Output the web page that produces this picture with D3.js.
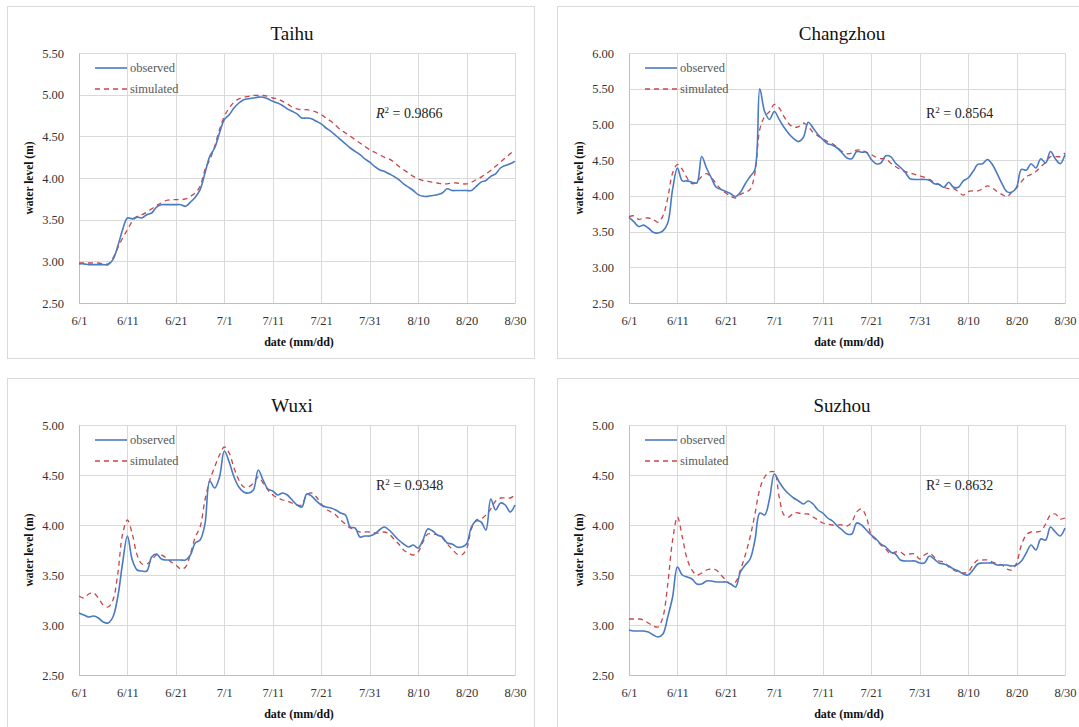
<!DOCTYPE html>
<html>
<head>
<meta charset="utf-8">
<script src="https://cdn.jsdelivr.net/npm/d3@7"></script>
<style>
  body { margin: 0; background: #fff; }
  svg, svg text { font-family: "Liberation Serif", "Times New Roman", "DejaVu Serif", serif !important; }
  svg { display: block; }
</style>
</head>
<body>
<svg id="chart" width="1079" height="727"></svg>
<script>
// stations, axis ranges and fit labels
const stations = ["Taihu", "Changzhou", "Wuxi", "Suzhou"];
const yDomains = [[2.5, 5.5], [2.5, 6.0], [2.5, 5.0], [2.5, 5.0]];
const r2Values = ["0.9866", "0.8564", "0.9348", "0.8632"];
const seriesNames = ["observed", "simulated"];
const startDate = new Date(2020, 5, 1);
const xTickDays = [0, 10, 20, 30, 40, 50, 60, 70, 80, 90];

// daily water level (m), 6/1 .. 8/30
const taihuObs = [2.97,2.97,2.96,2.96,2.96,2.96,2.96,3.02,3.18,3.38,3.52,3.51,3.53,3.52,3.56,3.58,3.65,3.68,3.68,3.68,3.68,3.68,3.66,3.71,3.77,3.86,4.06,4.26,4.36,4.54,4.70,4.76,4.84,4.90,4.94,4.95,4.96,4.97,4.97,4.95,4.92,4.90,4.87,4.83,4.80,4.77,4.72,4.72,4.71,4.68,4.65,4.60,4.56,4.51,4.46,4.41,4.36,4.32,4.28,4.23,4.19,4.14,4.10,4.08,4.05,4.02,3.98,3.93,3.89,3.85,3.80,3.78,3.78,3.79,3.80,3.82,3.87,3.85,3.85,3.85,3.85,3.85,3.90,3.95,3.97,4.02,4.05,4.12,4.15,4.17,4.20];
const taihuSim = [2.98,2.98,2.98,2.98,2.98,2.97,2.97,3.04,3.16,3.28,3.38,3.48,3.54,3.56,3.59,3.63,3.67,3.70,3.73,3.74,3.74,3.74,3.75,3.78,3.82,3.90,4.10,4.22,4.38,4.58,4.74,4.84,4.91,4.95,4.97,4.98,4.99,4.99,4.99,4.98,4.96,4.95,4.92,4.89,4.85,4.83,4.82,4.82,4.81,4.79,4.76,4.72,4.68,4.63,4.58,4.54,4.50,4.46,4.42,4.38,4.34,4.31,4.28,4.25,4.23,4.19,4.14,4.10,4.06,4.02,3.99,3.97,3.96,3.95,3.94,3.93,3.93,3.94,3.94,3.93,3.93,3.95,3.98,4.01,4.05,4.09,4.14,4.19,4.24,4.29,4.34];

const changzhouObs = [3.70,3.64,3.57,3.59,3.55,3.49,3.48,3.51,3.62,4.09,4.39,4.21,4.21,4.19,4.18,4.55,4.39,4.25,4.12,4.09,4.06,4.03,3.99,4.05,4.17,4.27,4.37,5.50,5.18,5.07,5.18,5.07,4.96,4.87,4.80,4.76,4.82,5.03,4.95,4.86,4.79,4.73,4.71,4.67,4.60,4.53,4.52,4.62,4.61,4.61,4.51,4.45,4.46,4.56,4.55,4.46,4.40,4.33,4.24,4.23,4.23,4.23,4.22,4.17,4.16,4.12,4.19,4.12,4.12,4.21,4.25,4.34,4.44,4.45,4.51,4.44,4.31,4.17,4.06,4.05,4.12,4.37,4.36,4.45,4.39,4.52,4.46,4.62,4.52,4.45,4.58];
const changzhouSim = [3.71,3.72,3.67,3.69,3.69,3.67,3.63,3.72,3.97,4.32,4.44,4.37,4.25,4.17,4.20,4.27,4.31,4.26,4.17,4.09,4.04,3.99,3.97,4.02,4.05,4.09,4.32,4.93,5.11,5.18,5.28,5.23,5.11,5.01,4.96,4.97,5.02,4.97,4.89,4.84,4.80,4.76,4.73,4.68,4.62,4.59,4.60,4.64,4.64,4.61,4.58,4.54,4.52,4.52,4.46,4.41,4.37,4.34,4.32,4.30,4.28,4.26,4.23,4.19,4.16,4.12,4.10,4.10,4.06,4.01,4.06,4.07,4.07,4.10,4.14,4.11,4.06,4.02,3.99,4.05,4.11,4.20,4.27,4.30,4.34,4.41,4.47,4.55,4.55,4.55,4.60];

const wuxiObs = [3.12,3.10,3.08,3.09,3.07,3.03,3.02,3.08,3.28,3.62,3.89,3.65,3.55,3.54,3.54,3.68,3.71,3.66,3.65,3.65,3.65,3.65,3.65,3.70,3.82,3.85,4.01,4.44,4.37,4.48,4.74,4.63,4.48,4.38,4.33,4.32,4.35,4.55,4.45,4.36,4.34,4.30,4.32,4.30,4.25,4.20,4.18,4.31,4.29,4.24,4.20,4.18,4.17,4.15,4.12,4.10,3.98,3.97,3.88,3.89,3.89,3.91,3.95,3.98,3.95,3.90,3.85,3.81,3.78,3.80,3.77,3.85,3.96,3.94,3.90,3.88,3.82,3.81,3.78,3.78,3.81,3.98,4.04,4.03,3.95,4.26,4.15,4.22,4.20,4.13,4.20];
const wuxiSim = [3.29,3.27,3.31,3.32,3.27,3.20,3.18,3.25,3.51,3.91,4.05,3.91,3.70,3.61,3.61,3.65,3.70,3.70,3.67,3.63,3.60,3.56,3.58,3.71,3.88,3.98,4.25,4.45,4.58,4.70,4.78,4.72,4.57,4.45,4.38,4.38,4.42,4.48,4.42,4.35,4.30,4.27,4.25,4.24,4.22,4.20,4.20,4.30,4.32,4.28,4.21,4.16,4.13,4.10,4.05,4.01,3.97,3.95,3.93,3.93,3.93,3.92,3.92,3.93,3.91,3.86,3.81,3.75,3.72,3.70,3.73,3.83,3.91,3.91,3.90,3.87,3.81,3.76,3.71,3.70,3.76,3.96,4.05,4.06,4.10,4.16,4.24,4.27,4.27,4.27,4.30];

const suzhouObs = [2.95,2.94,2.94,2.94,2.93,2.90,2.88,2.91,3.08,3.28,3.58,3.50,3.48,3.46,3.41,3.41,3.44,3.44,3.43,3.43,3.43,3.41,3.38,3.53,3.60,3.66,3.85,4.12,4.10,4.26,4.51,4.43,4.36,4.31,4.27,4.24,4.21,4.24,4.21,4.15,4.12,4.07,4.04,3.99,3.95,3.91,3.91,4.02,4.00,3.95,3.90,3.86,3.81,3.78,3.73,3.71,3.65,3.64,3.64,3.64,3.62,3.62,3.69,3.66,3.62,3.61,3.59,3.56,3.54,3.51,3.50,3.55,3.61,3.62,3.62,3.62,3.60,3.60,3.60,3.59,3.60,3.64,3.72,3.80,3.75,3.86,3.85,3.98,3.93,3.89,3.97];
const suzhouSim = [3.06,3.06,3.06,3.05,3.02,2.99,2.98,3.08,3.41,3.85,4.08,3.88,3.66,3.55,3.50,3.52,3.55,3.56,3.55,3.50,3.45,3.41,3.43,3.55,3.70,3.88,4.11,4.36,4.48,4.53,4.53,4.28,4.10,4.08,4.12,4.12,4.11,4.11,4.08,4.05,4.02,4.01,4.00,4.00,4.00,3.99,4.03,4.13,4.16,4.08,3.90,3.85,3.80,3.76,3.71,3.73,3.73,3.70,3.71,3.71,3.66,3.70,3.72,3.68,3.64,3.63,3.58,3.55,3.53,3.52,3.53,3.60,3.65,3.65,3.65,3.63,3.61,3.60,3.56,3.55,3.62,3.80,3.90,3.93,3.93,3.94,4.01,4.10,4.11,4.06,4.07];

const observed = [taihuObs, changzhouObs, wuxiObs, suzhouObs];
const simulated = [taihuSim, changzhouSim, wuxiSim, suzhouSim];

const svg = d3.select("#chart");

const panelW = 527, panelH = 352;
const panelPos = [[7, 6], [557, 6], [7, 378], [557, 378]];
const margin = {left: 72, right: 19, top: 47, bottom: 55};
const plotW = panelW - margin.left - margin.right;
const plotH = panelH - margin.top - margin.bottom;

const obsColor = "#4a7ac2";
const simColor = "#c8464a";
const gridColor = "#d9d9d9";
const serif = "'Liberation Serif', 'Times New Roman', serif";

const dayToDate = i => d3.timeDay.offset(startDate, i);
const fmt = d3.timeFormat("%-m/%-d");

stations.forEach((name, k) => {
    const [px, py] = panelPos[k];
    const panel = svg.append("g").attr("transform", `translate(${px},${py})`);

    panel.append("rect")
        .attr("x", 0.5).attr("y", 0.5)
        .attr("width", panelW).attr("height", panelH)
        .attr("fill", "#fff")
        .attr("stroke", gridColor);

    panel.append("text")
        .attr("x", margin.left + plotW / 2 - 5)
        .attr("y", 34)
        .attr("text-anchor", "middle")
        .style("font-family", serif)
        .attr("font-size", 19)
        .attr("fill", "#111")
        .text(name);

    const g = panel.append("g").attr("transform", `translate(${margin.left},${margin.top})`);

    const x = d3.scaleTime()
        .domain([dayToDate(0), dayToDate(90)])
        .range([0, plotW]);
    const y = d3.scaleLinear()
        .domain(yDomains[k])
        .range([plotH, 0]);
    const yTicks = d3.range(yDomains[k][0], yDomains[k][1] + 0.001, 0.5);

    // grid
    g.append("g")
        .selectAll("line.h")
        .data(yTicks)
        .join("line")
        .attr("x1", 0).attr("x2", plotW)
        .attr("y1", d => Math.round(y(d)) + 0.5)
        .attr("y2", d => Math.round(y(d)) + 0.5)
        .attr("stroke", gridColor);
    g.append("g")
        .selectAll("line.v")
        .data(xTickDays)
        .join("line")
        .attr("x1", d => Math.round(x(dayToDate(d))) + 0.5)
        .attr("x2", d => Math.round(x(dayToDate(d))) + 0.5)
        .attr("y1", 0).attr("y2", plotH)
        .attr("stroke", gridColor);

    // axes
    const xAxis = g.append("g")
        .attr("transform", `translate(0,${plotH})`)
        .call(d3.axisBottom(x)
            .tickValues(xTickDays.map(dayToDate))
            .tickFormat(fmt)
            .tickSize(0)
            .tickPadding(13));
    const yAxis = g.append("g")
        .call(d3.axisLeft(y)
            .tickValues(yTicks)
            .tickFormat(d3.format(".2f"))
            .tickSize(0)
            .tickPadding(15));
    [xAxis, yAxis].forEach(a => {
        a.attr("font-family", null).style("font-family", serif);
        a.select(".domain").attr("stroke", "#bfbfbf");
        a.selectAll("text")
            .style("font-family", serif)
            .attr("font-size", 12.5)
            .attr("fill", "#333");
    });

    // axis titles
    panel.append("text")
        .attr("x", margin.left + plotW / 2 + 2)
        .attr("y", margin.top + plotH + 43)
        .attr("text-anchor", "middle")
        .style("font-family", serif)
        .attr("font-weight", "bold")
        .attr("font-size", 12)
        .attr("fill", "#111")
        .text("date (mm/dd)");
    panel.append("text")
        .attr("transform", `translate(26,${margin.top + plotH / 2}) rotate(-90)`)
        .attr("text-anchor", "middle")
        .style("font-family", serif)
        .attr("font-weight", "bold")
        .attr("font-size", 11.5)
        .attr("fill", "#111")
        .text("water level (m)");

    // lines
    const line = d3.line()
        .x((d, i) => x(dayToDate(i)))
        .y(d => y(d))
        .curve(d3.curveCatmullRom.alpha(0.5));

    g.append("path")
        .datum(simulated[k])
        .attr("fill", "none")
        .attr("stroke", simColor)
        .attr("stroke-width", 1.3)
        .attr("stroke-dasharray", "5,4")
        .attr("d", line);
    g.append("path")
        .datum(observed[k])
        .attr("fill", "none")
        .attr("stroke", obsColor)
        .attr("stroke-width", 1.6)
        .attr("d", line);

    // legend
    const legend = panel.append("g").attr("transform", `translate(${margin.left + 16},0)`);
    seriesNames.forEach((s, j) => {
        const ly = 62 + j * 21;
        legend.append("line")
            .attr("x1", 0).attr("x2", 32)
            .attr("y1", ly).attr("y2", ly)
            .attr("stroke", j === 0 ? obsColor : simColor)
            .attr("stroke-width", j === 0 ? 1.6 : 1.3)
            .attr("stroke-dasharray", j === 0 ? null : "5,4");
        legend.append("text")
            .attr("x", 35)
            .attr("y", ly + 4)
            .style("font-family", serif)
            .attr("font-size", 12.5)
            .attr("fill", "#595959")
            .text(s);
    });

    // R squared
    const r2 = panel.append("text")
        .attr("x", 369)
        .attr("y", 112)
        .style("font-family", serif)
        .attr("font-size", 14)
        .attr("fill", "#222");
    r2.append("tspan")
        .attr("font-style", k === 0 ? "italic" : "normal")
        .text("R");
    r2.append("tspan")
        .attr("font-size", 9)
        .attr("dy", -5)
        .text("2");
    r2.append("tspan")
        .attr("dy", 5)
        .text(" = " + r2Values[k]);
});
</script>
</body>
</html>
